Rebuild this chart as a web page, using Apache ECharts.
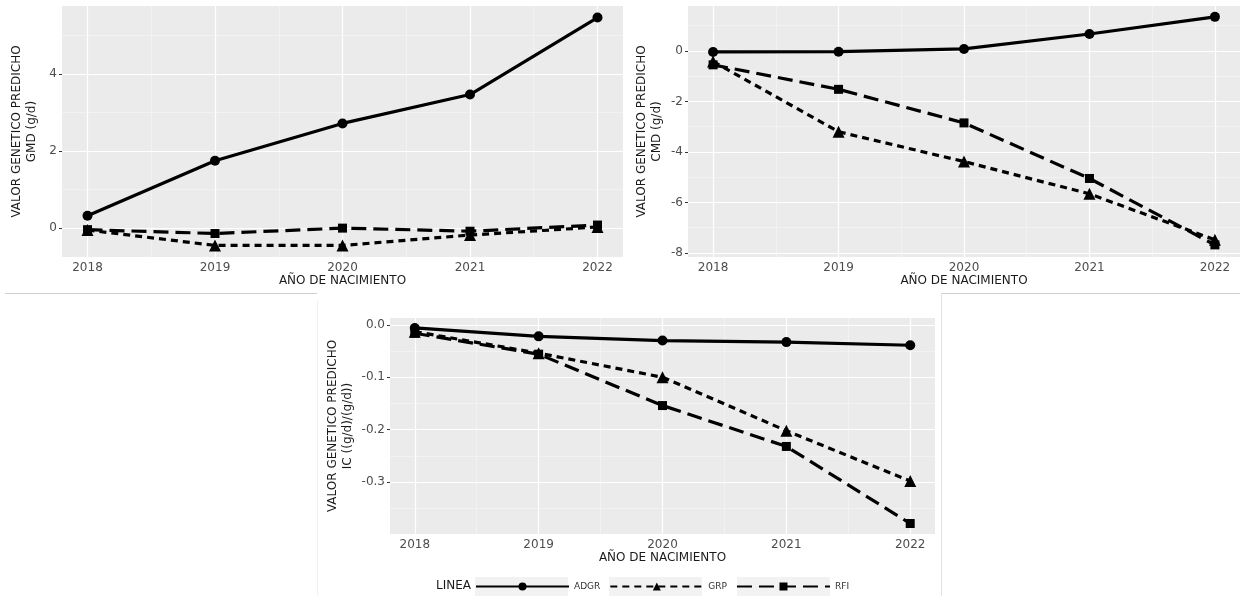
<!DOCTYPE html>
<html>
<head>
<meta charset="utf-8">
<script src="https://cdn.jsdelivr.net/npm/echarts@6/dist/echarts.min.js"></script>
<style>
html,body{margin:0;padding:0;background:#fff;}
#chart{width:1240px;height:596px;}
</style>
</head>
<body>
<div id="chart"></div>
<script>
// ---- data ----
const years = [2018, 2019, 2020, 2021, 2022];
const lineNames = ['ADGR', 'GRP', 'RFI'];

const gmdADGR = [0.32, 1.75, 2.72, 3.47, 5.47];
const gmdGRP  = [-0.05, -0.45, -0.45, -0.18, 0.03];
const gmdRFI  = [-0.04, -0.14, 0.00, -0.08, 0.08];

const cmdADGR = [-0.04, -0.03, 0.08, 0.67, 1.35];
const cmdGRP  = [-0.42, -3.20, -4.38, -5.66, -7.48];
const cmdRFI  = [-0.55, -1.52, -2.85, -5.05, -7.68];

const icADGR = [-0.006, -0.022, -0.030, -0.033, -0.039];
const icGRP  = [-0.013, -0.054, -0.100, -0.202, -0.298];
const icRFI  = [-0.016, -0.056, -0.154, -0.232, -0.379];

// tick labels and gridline values
const xMinor = [2018.5, 2019.5, 2020.5, 2021.5];
const gmdTicks = [0, 2, 4];
const gmdMinor = [1, 3, 5];
const cmdTicks = [-8, -6, -4, -2, 0];
const cmdMinor = [-7, -5, -3, -1, 1];
const icTicks = [-0.3, -0.2, -0.1, 0.0];
const icMinor = [-0.35, -0.25, -0.15, -0.05];

const yTitles = ['VALOR GENETICO PREDICHO\nGMD (g/d)', 'VALOR GENETICO PREDICHO\nCMD (g/d)', 'VALOR GENETICO PREDICHO\nIC ((g/d)/(g/d))'];
const xTitle = 'AÑO DE NACIMIENTO';

// ---- build ----
const FONT = 'DejaVu Sans';
const panels = [
  {grid:{left:62, top:6, width:561, height:251}, y:[-0.75, 5.77], ticks:gmdTicks, minor:gmdMinor, data:[gmdADGR,gmdGRP,gmdRFI], fmt:v=>String(v), nameGap:23},
  {grid:{left:688, top:6, width:557.5, height:251}, y:[-8.16, 1.78], ticks:cmdTicks, minor:cmdMinor, data:[cmdADGR,cmdGRP,cmdRFI], fmt:v=>String(v), nameGap:24},
  {grid:{left:390, top:318, width:545, height:216}, y:[-0.399, 0.013], ticks:icTicks, minor:icMinor, data:[icADGR,icGRP,icRFI], fmt:v=>v.toFixed(1), nameGap:35}
];

const styles = [
  {symbol:'circle', symbolSize:10, type:'solid'},
  {symbol:'triangle', symbolSize:12, type:[7,5]},
  {symbol:'rect', symbolSize:9, type:[15,7]}
];

const grids = [], xAxes = [], yAxes = [], series = [];
panels.forEach((p, i) => {
  grids.push(Object.assign({show:true, backgroundColor:'#ebebeb', borderWidth:0, containLabel:false}, p.grid));
  xAxes.push({
    type:'value', gridIndex:i, min:2017.8, max:2022.2,
    name:xTitle, nameLocation:'middle', nameGap:18,
    nameTextStyle:{fontFamily:FONT, fontSize:12, color:'#1a1a1a'},
    axisLine:{show:false},
    axisTick:{show:true, customValues:years, length:3, lineStyle:{color:'#333', width:1}},
    axisLabel:{customValues:years, margin:5, fontFamily:FONT, fontSize:12, color:'#4d4d4d', formatter:v=>String(v)},
    splitLine:{show:false}
  });
  yAxes.push({
    type:'value', gridIndex:i, min:p.y[0], max:p.y[1],
    name:yTitles[i], nameLocation:'middle', nameRotate:90, nameGap:p.nameGap,
    nameTextStyle:{fontFamily:FONT, fontSize:12, color:'#1a1a1a', lineHeight:15, align:'center'},
    axisLine:{show:false},
    axisTick:{show:true, customValues:p.ticks, length:3, lineStyle:{color:'#333', width:1}},
    axisLabel:{customValues:p.ticks, margin:5, fontFamily:FONT, fontSize:12, color:'#4d4d4d', formatter:p.fmt},
    splitLine:{show:false}
  });
  // gridlines
  const gl = [];
  years.forEach(v => gl.push({xAxis:v, lineStyle:{color:'#ffffff', width:1.2, type:'solid'}}));
  xMinor.forEach(v => gl.push({xAxis:v, lineStyle:{color:'#f6f6f6', width:0.6, type:'solid'}}));
  p.ticks.forEach(v => gl.push({yAxis:v, lineStyle:{color:'#ffffff', width:1.2, type:'solid'}}));
  p.minor.forEach(v => { if (v >= p.y[0] && v <= p.y[1]) gl.push({yAxis:v, lineStyle:{color:'#f6f6f6', width:0.6, type:'solid'}}); });
  series.push({
    type:'line', name:'grid'+i, xAxisIndex:i, yAxisIndex:i, data:[], silent:true, z:1,
    markLine:{silent:true, z:1, symbol:'none', label:{show:false}, animation:false, data:gl}
  });
  lineNames.forEach((nm, k) => {
    series.push({
      type:'line', name:nm, xAxisIndex:i, yAxisIndex:i, z:3,
      data: years.map((yr, j) => [yr, p.data[k][j]]),
      symbol:styles[k].symbol, symbolSize:styles[k].symbolSize, showSymbol:true,
      itemStyle:{color:'#000', borderWidth:0},
      lineStyle:{color:'#000', width:3.2, type:styles[k].type},
      animation:false
    });
  });
});

const chart = echarts.init(document.getElementById('chart'), null, {renderer:'canvas'});
chart.setOption({
  backgroundColor:'#ffffff',
  animation:false,
  grid:grids, xAxis:xAxes, yAxis:yAxes, series:series,
  legend:{
    data:lineNames, left:475, top:582, padding:0, orient:'horizontal',
    itemWidth:93, itemHeight:10, itemGap:9,
    textStyle:{fontFamily:FONT, fontSize:9, color:'#333'},
    selectedMode:false
  },
  graphic:[
    {type:'rect', shape:{x:475, y:577, width:93, height:19}, style:{fill:'#f2f2f2'}, z:0, silent:true},
    {type:'rect', shape:{x:609, y:577, width:93, height:19}, style:{fill:'#f2f2f2'}, z:0, silent:true},
    {type:'rect', shape:{x:737, y:577, width:93, height:19}, style:{fill:'#f2f2f2'}, z:0, silent:true},
    {type:'text', x:436, y:586, style:{text:'LINEA', fontFamily:FONT, fontSize:12, fill:'#1a1a1a', verticalAlign:'middle'}, z:5},
    {type:'line', shape:{x1:5, y1:293.5, x2:317, y2:293.5}, style:{stroke:'#cfcfcf', lineWidth:1}, z:0},
    {type:'line', shape:{x1:941, y1:293.5, x2:1240, y2:293.5}, style:{stroke:'#cfcfcf', lineWidth:1}, z:0},
    {type:'line', shape:{x1:941.5, y1:293, x2:941.5, y2:596}, style:{stroke:'#e2e2e2', lineWidth:1}, z:0},
    {type:'line', shape:{x1:317.5, y1:300, x2:317.5, y2:596}, style:{stroke:'#f2f2f2', lineWidth:1}, z:0}
  ]
});
</script>
</body>
</html>
